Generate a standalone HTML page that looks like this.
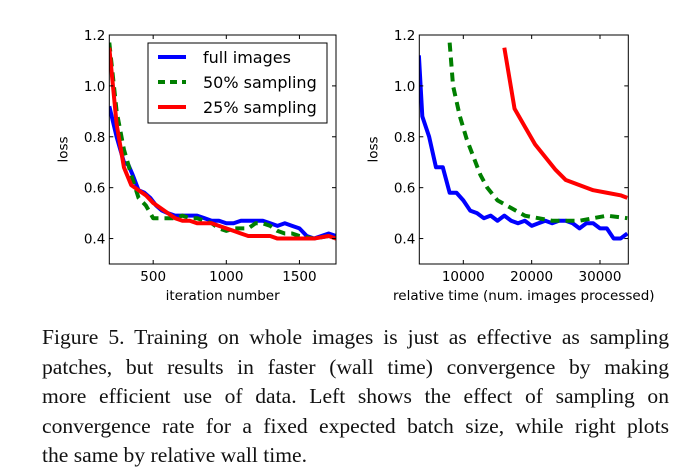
<!DOCTYPE html>
<html><head><meta charset="utf-8"><style>
body{margin:0;background:#fff;width:696px;height:473px;overflow:hidden}
svg text{font-family:"DejaVu Sans","Liberation Sans",sans-serif;font-size:13.5px;fill:#000}
#cap{position:absolute;left:42px;top:323px;width:627px;font-family:"Liberation Serif",serif;font-size:21.6px;line-height:29.6px;color:#111}
#cap .j{text-align:justify;text-align-last:justify;white-space:nowrap}
</style></head><body>
<svg id="fig" width="696" height="320" style="position:absolute;left:0;top:0"></svg>
<div id="cap">
<div class="j">Figure 5. Training on whole images is just as effective as sampling</div>
<div class="j">patches, but results in faster (wall time) convergence by making</div>
<div class="j">more efficient use of data. Left shows the effect of sampling on</div>
<div class="j">convergence rate for a fixed expected batch size, while right plots</div>
<div>the same by relative wall time.</div>
</div>
<script>
const yTicks=[0.4,0.6,0.8,1.0,1.2];
const leftXTicks=[500,1000,1500];
const rightXTicks=[10000,20000,30000];
const leftBlueX=[200,250,300,330,360,400,440,480,520,560,600,650,700,750,800,850,900,950,1000,1050,1100,1150,1200,1250,1300,1350,1400,1450,1500,1550,1600,1650,1700,1750];
const leftBlueY=[0.92,0.8,0.7,0.69,0.65,0.59,0.58,0.56,0.53,0.51,0.5,0.49,0.49,0.49,0.49,0.48,0.47,0.47,0.46,0.46,0.47,0.47,0.47,0.47,0.46,0.45,0.46,0.45,0.44,0.41,0.4,0.41,0.42,0.41];
const leftGreenX=[200,250,300,350,400,450,500,550,600,650,700,750,800,850,900,950,1000,1050,1100,1150,1200,1250,1300,1350,1400,1450,1500,1600,1700,1750];
const leftGreenY=[1.17,0.9,0.75,0.65,0.56,0.53,0.48,0.48,0.48,0.48,0.49,0.48,0.48,0.47,0.46,0.44,0.43,0.44,0.44,0.44,0.46,0.46,0.45,0.43,0.42,0.42,0.41,0.4,0.41,0.41];
const leftRedX=[200,250,300,350,400,450,500,550,600,650,700,750,800,850,900,950,1000,1050,1100,1150,1200,1300,1350,1400,1500,1600,1700,1750];
const leftRedY=[1.15,0.85,0.68,0.61,0.59,0.57,0.54,0.52,0.5,0.48,0.47,0.47,0.46,0.46,0.46,0.45,0.44,0.43,0.42,0.41,0.41,0.41,0.4,0.4,0.4,0.4,0.41,0.4];
const rightBlueX=[3500,4000,5000,6000,7000,8000,9000,10000,11000,12000,13000,14000,15000,16000,17000,18000,19000,20000,21000,22000,23000,24000,25000,26000,27000,28000,29000,30000,31000,32000,33000,34000];
const rightBlueY=[1.12,0.88,0.8,0.68,0.68,0.58,0.58,0.55,0.51,0.5,0.48,0.49,0.47,0.49,0.47,0.46,0.47,0.45,0.46,0.47,0.46,0.47,0.47,0.46,0.44,0.46,0.46,0.44,0.44,0.4,0.4,0.42];
const rightGreenX=[8000,8500,9500,10500,11500,12500,13500,15000,17000,19000,21000,23000,25000,27000,29000,31000,34000];
const rightGreenY=[1.17,1.0,0.88,0.79,0.72,0.65,0.6,0.55,0.52,0.49,0.48,0.47,0.47,0.47,0.48,0.49,0.48];
const rightRedX=[16000,17500,19000,20500,22000,23500,25000,27000,29000,31000,33000,34000];
const rightRedY=[1.15,0.91,0.84,0.77,0.72,0.67,0.63,0.61,0.59,0.58,0.57,0.56];

const NS='http://www.w3.org/2000/svg';
const svg=document.getElementById('fig');
function mk(tag,attrs,parent){const e=document.createElementNS(NS,tag);for(const k in attrs)e.setAttribute(k,attrs[k]);(parent||svg).appendChild(e);return e;}

function panel(name,L,R,xmin,xmax,xTicks,xlabel,series,legend){
  const T=35,B=264,ymin=0.3,ymax=1.2;
  const g=mk('g',{});
  
  
  const sx=v=>L+(v-xmin)/(xmax-xmin)*(R-L);
  const sy=v=>B-(v-ymin)/(ymax-ymin)*(B-T);
  const cp=mk('clipPath',{id:name+'-clip'},g);
  mk('rect',{x:L,y:T,width:R-L,height:B-T},cp);
  series.forEach(s=>{
    const p=mk('polyline',{points:s.x.map((v,i)=>sx(v)+','+sy(s.y[i])).join(' '),fill:'none',stroke:s.c,'stroke-width':4,'stroke-linejoin':'round','clip-path':'url(#'+name+'-clip)'},g);
    if(s.dash)p.setAttribute('stroke-dasharray','9,6');
    
    
  });
  const frame=mk('rect',{x:L,y:T,width:R-L,height:B-T,fill:'none',stroke:'#000','stroke-width':1},g);
  
  
  yTicks.forEach(v=>{
    const y=sy(v);
    mk('line',{x1:L,x2:L+4,y1:y,y2:y,stroke:'#000'},g);
    mk('line',{x1:R,x2:R-4,y1:y,y2:y,stroke:'#000'},g);
    const t=mk('text',{x:L-4,y:y+5,'text-anchor':'end'},g);t.textContent=v.toFixed(1);
    
    
  });
  xTicks.forEach(v=>{
    const x=sx(v);
    mk('line',{x1:x,x2:x,y1:B,y2:B-4,stroke:'#000'},g);
    mk('line',{x1:x,x2:x,y1:T,y2:T+4,stroke:'#000'},g);
    const t=mk('text',{x:x,y:B+17,'text-anchor':'middle'},g);t.textContent=v;
    
    
  });
  const xl=mk('text',{x:(L+R)/2,y:B+36,'text-anchor':'middle'},g);xl.textContent=xlabel;
  
  
  const yl=mk('text',{x:0,y:0,'text-anchor':'middle',transform:'translate('+(L-42)+','+((T+B)/2)+') rotate(-90)'},g);yl.textContent='loss';
  
  
  if(legend){
    const lg=mk('g',{},g);
    
    
    mk('rect',{x:148,y:43,width:179,height:80,fill:'#fff',stroke:'#000'},lg);
    series.forEach((s,i)=>{
      const y=63+i*25;
      const l=mk('line',{x1:158,x2:186,y1:y-6,y2:y-6,stroke:s.c,'stroke-width':4},lg);
      if(s.dash)l.setAttribute('stroke-dasharray','7,5');
      const t=mk('text',{x:203,y:y,style:'font-size:16px'},lg);t.textContent=s.label;
      
      
    });
  }
}
panel('left-chart',109.3,336,200,1750,leftXTicks,'iteration number',[
 {x:leftBlueX,y:leftBlueY,c:'#0000ff',n:'series-full-images',label:'full images'},
 {x:leftGreenX,y:leftGreenY,c:'#007f00',dash:true,n:'series-50-sampling',label:'50% sampling'},
 {x:leftRedX,y:leftRedY,c:'#ff0000',n:'series-25-sampling',label:'25% sampling'}],true);
panel('right-chart',419.3,628.3,3560,34140,rightXTicks,'relative time (num. images processed)',[
 {x:rightBlueX,y:rightBlueY,c:'#0000ff',n:'series-full-images'},
 {x:rightGreenX,y:rightGreenY,c:'#007f00',dash:true,n:'series-50-sampling'},
 {x:rightRedX,y:rightRedY,c:'#ff0000',n:'series-25-sampling'}],false);
</script>
</body></html>
